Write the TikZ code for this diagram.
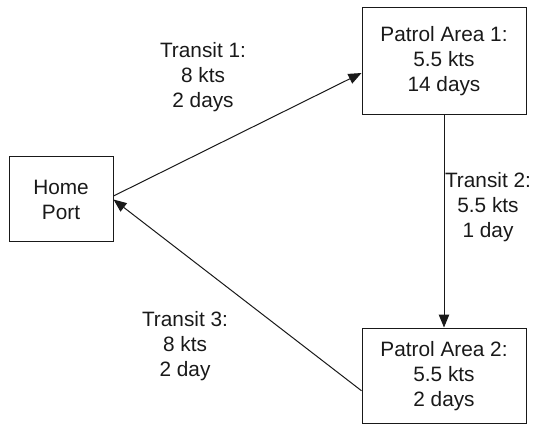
\documentclass[tikz,border=0pt]{standalone}
\usepackage{fontspec}
\setmainfont{Liberation Sans}
\usetikzlibrary{arrows.meta}

\tikzset{
  place/.style = {draw, line width = 1pt, align = center, inner sep = 0pt},
  leg/.style = {align = center, inner sep = 0pt},
  route/.style = {line width = 1pt, -{Triangle[length = 13pt, width = 10.5pt]}}
}

\begin{document}
\begin{tikzpicture}[x = 1pt, y = -1pt, font = \fontsize{20.8}{25}\selectfont, color = black!90]
	 \useasboundingbox (0, 0) rectangle (536, 425);

	 % ports and patrol areas
	 \node[place, minimum width = 104pt, minimum height = 85pt] (home) at (61, 199.5) {Home\\Port};
	 \node[place, minimum width = 164pt, minimum height = 107pt] (pa1) at (444, 61.5) {Patrol Area 1:\\5.5 kts\\14 days};
	 \node[place, minimum width = 164pt, minimum height = 95.5pt] (pa2) at (444, 375.75) {Patrol Area 2:\\5.5 kts\\2 days};

	 % transits
	 \draw[route] ([yshift = 3.5pt]home.east) -- ([yshift = -11.5pt]pa1.west);
	 \draw[route] (pa1.south) -- (pa2.north);
	 \draw[route] ([yshift = -15pt]pa2.west) -- (home.east);

	 \node[leg] (t1) at (203, 77) {Transit 1:\\8 kts\\2 days};
	 \node[leg] (t2) at (488, 207) {Transit 2:\\5.5 kts\\1 day};
	 \node[leg] (t3) at (185, 346) {Transit 3:\\8 kts\\2 day};
\end{tikzpicture}
\end{document}
